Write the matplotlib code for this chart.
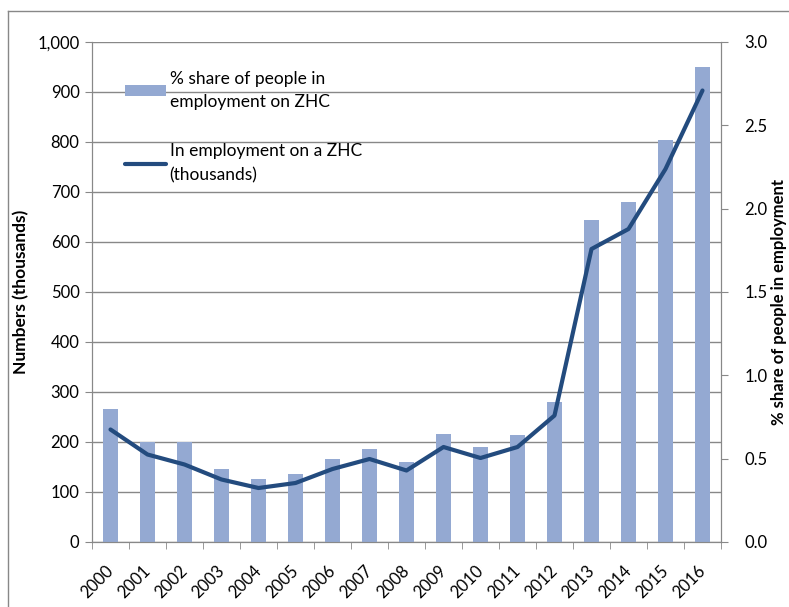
"""Zero-hours contracts: numbers and share of people in employment, 2000-2016."""

import matplotlib

matplotlib.use("Agg")
import matplotlib.pyplot as plt
import matplotlib.ticker as mtick
from matplotlib.lines import Line2D
from matplotlib.patches import Patch

years = [str(y) for y in range(2000, 2017)]
# % share of people in employment on ZHC (right axis)
share_pct = [0.80, 0.60, 0.60, 0.44, 0.38, 0.41, 0.50, 0.56, 0.48, 0.65,
             0.57, 0.64, 0.84, 1.93, 2.04, 2.41, 2.85]
# In employment on a ZHC, thousands (left axis)
zhc_thousands = [225, 175, 155, 125, 108, 118, 146, 166, 143, 190,
                 168, 190, 253, 586, 626, 746, 903]

bar_label = "% share of people in\nemployment on ZHC"
line_label = "In employment on a ZHC\n(thousands)"

BAR_COLOR = "#94A9D2"
LINE_COLOR = "#234B7E"
GRAY = "#888888"

plt.rcParams["font.family"] = ["Lato", "DejaVu Sans"]
plt.rcParams["font.size"] = 12

fig = plt.figure(figsize=(7.89, 6.07), dpi=100)
ax = fig.add_axes([92 / 789, 1 - 542 / 607, 629 / 789, 500 / 607])
ax2 = ax.twinx()

x = list(range(len(years)))

# left axis: numbers, with gridlines
ax.set_xlim(-0.5, len(years) - 0.5)
ax.set_ylim(0, 1000)
ax.set_yticks(range(0, 1001, 100))
ax.yaxis.set_major_formatter(mtick.StrMethodFormatter("{x:,.0f}"))
ax.grid(axis="y", color=GRAY, linewidth=1)
ax.set_axisbelow(True)
ax.set_ylabel("Numbers (thousands)", fontweight="bold", fontsize=12.5, labelpad=6)

# right axis: share bars
ax2.bar(x, share_pct, width=0.38, color=BAR_COLOR, zorder=2)
ax2.set_ylim(0, 3.0)
ax2.set_yticks([0, 0.5, 1.0, 1.5, 2.0, 2.5, 3.0])
ax2.yaxis.set_major_formatter(mtick.FormatStrFormatter("%.1f"))
ax2.set_ylabel("% share of people in employment", fontweight="bold", fontsize=12)
ax2.yaxis.set_label_coords(1.08, 0.48)

# line drawn in the left-axis scale, on top of the bars
ax2.plot(x, zhc_thousands, color=LINE_COLOR, linewidth=3, zorder=3,
         solid_capstyle="round", transform=ax.transData)

# category ticks at boundaries, labels at centres
ax.set_xticks(x)
ax.set_xticklabels(years, rotation=45, ha="right", va="center", rotation_mode="anchor")
ax.set_xticks([i - 0.5 for i in range(len(years) + 1)], minor=True)
ax.tick_params(axis="x", which="major", length=0, pad=19)
ax.tick_params(axis="x", which="minor", length=5, color=GRAY)
ax.tick_params(axis="y", length=5, color=GRAY, pad=4)
ax2.tick_params(axis="y", length=5, color=GRAY, pad=12)

for a in (ax, ax2):
    for side in ("left", "right", "bottom"):
        a.spines[side].set_color(GRAY)
    a.spines["top"].set_visible(False)

handles = [Patch(facecolor=BAR_COLOR, edgecolor="none"),
           Line2D([0], [0], color=LINE_COLOR, linewidth=3, solid_capstyle="round")]
leg = ax2.legend(handles, [bar_label, line_label], loc="upper left",
                 bbox_to_anchor=(0.038, 0.96), frameon=False, fontsize=12.5,
                 handlelength=2.4, handleheight=0.6, handletextpad=0.2,
                 labelspacing=1.9, borderpad=0)
for t in leg.get_texts():
    t.set_linespacing(1.6)

# outer chart-area frame (cropped at right and bottom)
fig.add_artist(Line2D([8 / 789, 8 / 789], [0, 1 - 11 / 607], color=GRAY, linewidth=1,
                      transform=fig.transFigure))
fig.add_artist(Line2D([8 / 789, 1], [1 - 11 / 607, 1 - 11 / 607], color=GRAY, linewidth=1,
                      transform=fig.transFigure))

fig.savefig("out.png", dpi=100)
